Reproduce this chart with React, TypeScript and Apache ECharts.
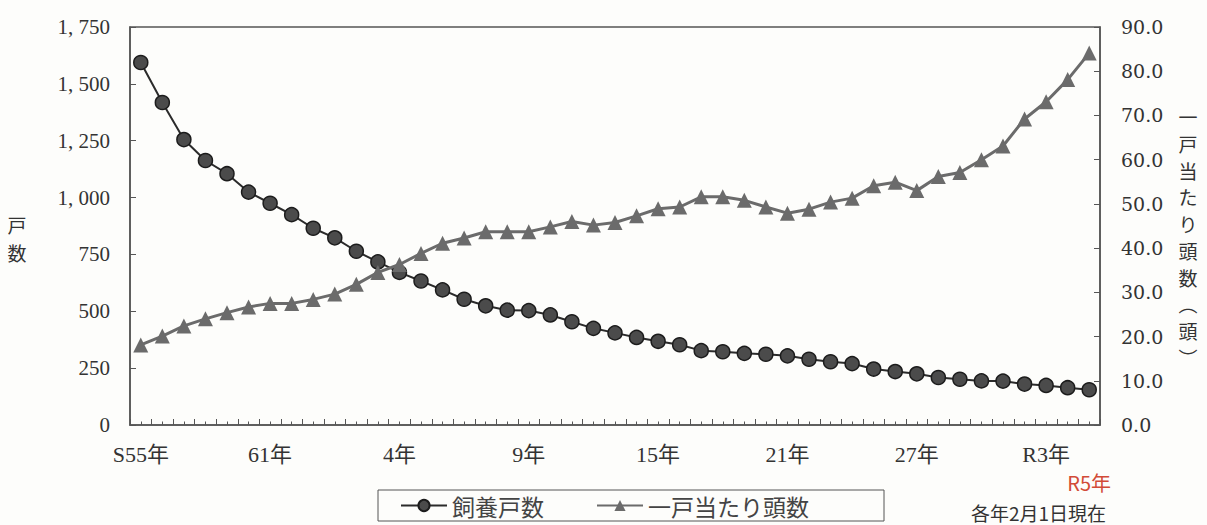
import React, { useEffect, useRef } from "react";
import * as echarts from "echarts";

// Categories: S55 (1980) .. R5 (2023), 45 plotted points
const categories = [
  "S55年", "56年", "57年", "58年", "59年", "60年", "61年", "62年", "63年", "H元年",
  "2年", "3年", "4年", "5年", "6年", "7年", "8年", "8年(2)", "9年", "10年",
  "11年", "12年", "13年", "14年", "15年", "16年", "17年", "18年", "19年", "20年",
  "21年", "22年", "23年", "24年", "25年", "26年", "27年", "28年", "29年", "30年",
  "R元年", "R2年", "R3年", "R4年", "R5年",
];

// 飼養戸数 (left axis, 戸)
const households = [
  1594, 1418, 1255, 1163, 1105, 1024, 975, 925, 865, 823,
  764, 717, 671, 633, 594, 553, 524, 505, 503, 484,
  454, 425, 405, 385, 368, 353, 327, 322, 315, 311,
  304, 289, 278, 270, 246, 235, 225, 209, 201, 194,
  193, 180, 174, 164, 155,
];

// 一戸当たり頭数 (right axis, 頭)
const headsPerHousehold = [
  18.1, 20.1, 22.4, 24.0, 25.4, 26.7, 27.5, 27.5, 28.4, 29.6,
  31.8, 34.5, 36.3, 38.8, 41.1, 42.3, 43.7, 43.7, 43.7, 44.8,
  46.0, 45.2, 45.8, 47.3, 48.9, 49.3, 51.6, 51.6, 50.8, 49.3,
  47.9, 48.8, 50.4, 51.3, 54.1, 54.9, 53.0, 56.2, 57.1, 60.0,
  63.1, 69.2, 73.1, 78.1, 84.1,
];

const xTickLabels = ["S55年", "61年", "4年", "9年", "15年", "21年", "27年", "R3年"];
const highlightLabel = "R5年";

const leftMin = 0;
const leftMax = 1750;
const leftStep = 250;
const rightMin = 0;
const rightMax = 90;
const rightStep = 10;

const seriesNames = ["飼養戸数", "一戸当たり頭数"];
const leftTitle = "戸\n数";
const rightTitle = "一\n戸\n当\nた\nり\n頭\n数\n︵\n頭\n︶";
const note = "各年2月1日現在";

const SERIF = "'Liberation Serif', 'Noto Sans CJK JP', serif";
const CJK = "'Noto Sans CJK JP', sans-serif";
const AXIS = "#555";

export default function App() {
  const ref = useRef<HTMLDivElement>(null);

  useEffect(() => {
    if (!ref.current) return;
    const chart = echarts.init(ref.current, null, { renderer: "svg" });

    const fmtLeft = (v: number) => {
      if (v >= 1000) {
        const th = Math.floor(v / 1000);
        const rest = String(v % 1000).padStart(3, "0");
        return `${th}, ${rest}`;
      }
      return String(v);
    };

    const option: any = {
      animation: false,
      backgroundColor: "#fdfdfb",
      grid: {
        left: 130,
        right: 107,
        top: 27,
        bottom: 100,
        show: true,
        borderColor: AXIS,
        borderWidth: 1.5,
        backgroundColor: "transparent",
      },
      legend: {
        data: seriesNames,
        left: 378,
        top: 490,
        orient: "horizontal",
        itemWidth: 46,
        itemHeight: 14,
        itemGap: 52,
        padding: [3, 75, 3, 22],
        borderColor: AXIS,
        borderWidth: 1,
        textStyle: { fontSize: 23, fontFamily: CJK, color: "#444", lineHeight: 25 },
      },
      xAxis: [
        {
          type: "category",
          data: categories,
          boundaryGap: true,
          position: "bottom",
          axisLine: { show: true, lineStyle: { color: AXIS, width: 1.5 } },
          axisTick: { show: true, inside: true, length: 6, interval: 0, lineStyle: { color: AXIS, width: 1 } },
          axisLabel: {
            interval: (i: number, v: string) => xTickLabels.includes(v),
            showMaxLabel: true,
            showMinLabel: true,
            margin: 15,
            fontSize: 22,
            lineHeight: 28,
            fontFamily: SERIF,
            color: "#333",
          },
          splitLine: { show: false },
        },
        {
          type: "category",
          data: categories,
          boundaryGap: true,
          position: "bottom",
          axisLine: { show: false },
          axisTick: { show: true, inside: true, length: 3.5, interval: 0, alignWithLabel: true, lineStyle: { color: AXIS, width: 1 } },
          axisLabel: { show: false },
          splitLine: { show: false },
        },
        {
          type: "category",
          data: categories,
          boundaryGap: true,
          position: "bottom",
          axisLine: { show: false },
          axisTick: { show: false },
          axisLabel: {
            interval: (i: number, v: string) => v === highlightLabel,
            showMaxLabel: true,
            showMinLabel: true,
            margin: 47,
            fontSize: 20,
            lineHeight: 20,
            fontFamily: CJK,
            color: "#d24b37",
          },
          splitLine: { show: false },
        },
      ],
      yAxis: [
        {
          type: "value",
          position: "left",
          min: leftMin,
          max: leftMax,
          interval: leftStep,
          axisLine: { show: true, lineStyle: { color: AXIS, width: 1.5 } },
          axisTick: { show: true, inside: true, length: 6, lineStyle: { color: AXIS } },
          splitLine: { show: false },
          axisLabel: {
            formatter: fmtLeft,
            margin: 20,
            fontSize: 21,
            fontFamily: SERIF,
            color: "#333",
          },
        },
        {
          type: "value",
          position: "right",
          min: rightMin,
          max: rightMax,
          interval: rightStep,
          axisLine: { show: true, lineStyle: { color: AXIS, width: 1.5 } },
          axisTick: { show: true, inside: true, length: 6, lineStyle: { color: AXIS } },
          splitLine: { show: false },
          axisLabel: {
            formatter: (v: number) => v.toFixed(1),
            margin: 21,
            fontSize: 19,
            fontFamily: "'DejaVu Serif', serif",
            color: "#333",
          },
        },
      ],
      series: [
        {
          name: seriesNames[0],
          type: "line",
          xAxisIndex: 0,
          yAxisIndex: 0,
          data: households,
          symbol: "circle",
          symbolSize: 14,
          showAllSymbol: true,
          lineStyle: { color: "#2b2b2b", width: 2 },
          itemStyle: { color: "#4b4b4b", borderColor: "#1c1c1c", borderWidth: 1.5 },
          z: 2,
        },
        {
          name: seriesNames[1],
          type: "line",
          xAxisIndex: 0,
          yAxisIndex: 1,
          data: headsPerHousehold,
          symbol: "triangle",
          symbolSize: 15,
          showAllSymbol: true,
          lineStyle: { color: "#6b6b6b", width: 3 },
          itemStyle: { color: "#6b6b6b" },
          z: 3,
        },
      ],
      graphic: [
        {
          type: "text",
          x: 17,
          y: 238,
          style: {
            text: leftTitle,
            fontSize: 19,
            fontFamily: CJK,
            lineHeight: 28,
            fill: "#333",
            textAlign: "center",
            textVerticalAlign: "middle",
            align: "center",
            verticalAlign: "middle",
          },
        },
        {
          type: "text",
          x: 1188,
          y: 237,
          style: {
            text: rightTitle,
            fontSize: 19,
            fontFamily: CJK,
            lineHeight: 26.7,
            fill: "#333",
            textAlign: "center",
            textVerticalAlign: "middle",
            align: "center",
            verticalAlign: "middle",
          },
        },
        {
          type: "text",
          x: 1106,
          y: 512,
          style: {
            text: note,
            fontSize: 19,
            lineHeight: 20,
            fontFamily: CJK,
            fill: "#333",
            textAlign: "right",
            textVerticalAlign: "middle",
            align: "right",
            verticalAlign: "middle",
          },
        },
      ],
    };

    chart.setOption(option);
    return () => chart.dispose();
  }, []);

  return (
    <div
      ref={ref}
      style={{ position: "fixed", left: 0, top: 0, width: 1207, height: 525 }}
    />
  );
}
